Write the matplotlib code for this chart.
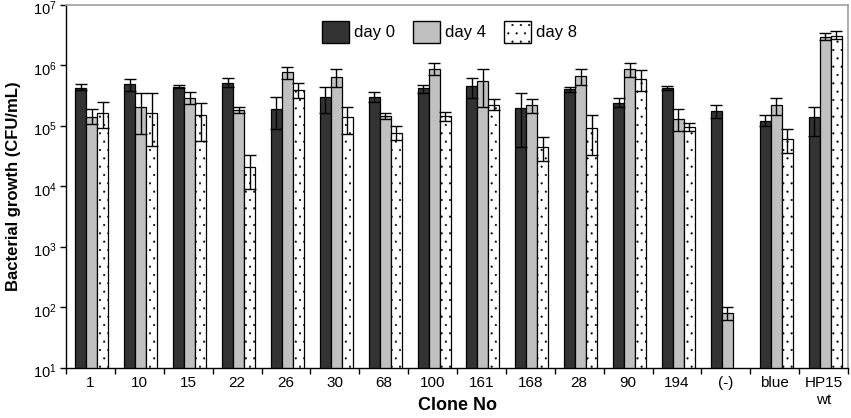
import numpy as np
import matplotlib
matplotlib.use("Agg")
import matplotlib.pyplot as plt
from matplotlib.patches import Patch
from matplotlib.ticker import FixedLocator
from matplotlib.transforms import ScaledTranslation

plt.rcParams['hatch.linewidth'] = 0.3
plt.rcParams['hatch.color'] = '#555555'
plt.rcParams['font.family'] = ['Liberation Sans', 'DejaVu Sans']

categories = ["1", "10", "15", "22", "26", "30", "68", "100", "161", "168",
              "28", "90", "194", "(-)", "blue", "HP15\nwt"]
y_exponents = [1, 2, 3, 4, 5, 6, 7]

day0 = [4.2e5, 4.85e5, 4.4e5, 5.1e5, 1.9e5, 3.0e5, 3.0e5, 4.1e5, 4.5e5, 1.95e5,
        3.96e5, 2.35e5, 4.17e5, 1.76e5, 1.2e5, 1.36e5]
day0_lo = [3.9e5, 3.75e5, 4.1e5, 4.25e5, 8.6e4, 1.6e5, 2.45e5, 3.5e5, 2.9e5, 4.4e4,
           3.6e5, 2.0e5, 3.85e5, 1.33e5, 9.8e4, 6.8e4]
day0_hi = [4.8e5, 5.95e5, 4.75e5, 6.1e5, 3.0e5, 4.25e5, 3.6e5, 4.75e5, 6.1e5, 3.5e5,
           4.4e5, 2.8e5, 4.5e5, 2.2e5, 1.47e5, 2.05e5]

day4 = [1.4e5, 2.05e5, 2.85e5, 1.8e5, 7.65e5, 6.4e5, 1.45e5, 8.6e5, 5.4e5, 2.2e5,
        6.5e5, 8.5e5, 1.3e5, 80, 2.2e5, 2.94e6]
day4_lo = [1.06e5, 7.3e4, 2.25e5, 1.58e5, 5.95e5, 4.25e5, 1.3e5, 6.8e5, 2.0e5, 1.62e5,
           4.75e5, 6.25e5, 8.0e4, 61, 1.5e5, 2.6e6]
day4_hi = [1.86e5, 3.4e5, 3.6e5, 2.02e5, 9.1e5, 8.6e5, 1.62e5, 1.08e6, 8.7e5, 2.77e5,
           8.5e5, 1.08e6, 1.85e5, 99, 2.85e5, 3.35e6]

day8 = [1.6e5, 1.6e5, 1.47e5, 2.08e4, 3.86e5, 1.4e5, 7.6e4, 1.42e5, 2.2e5, 4.47e4,
        9.2e4, 5.9e5, 9.4e4, np.nan, 5.9e4, 3.0e6]
day8_lo = [9.1e4, 4.5e4, 5.6e4, 8.8e3, 2.8e5, 7.2e4, 5.75e4, 1.2e5, 1.8e5, 2.6e4,
           3.3e4, 3.67e5, 8.2e4, np.nan, 3.47e4, 2.65e6]
day8_hi = [2.4e5, 3.4e5, 2.38e5, 3.24e4, 5.1e5, 2.04e5, 1.0e5, 1.67e5, 2.7e5, 6.45e4,
           1.51e5, 8.26e5, 1.09e5, np.nan, 8.65e4, 3.6e6]

series = [("day 0", day0, day0_lo, day0_hi, "#333333", None),
          ("day 4", day4, day4_lo, day4_hi, "#c0c0c0", None),
          ("day 8", day8, day8_lo, day8_hi, "white", "..")]

fig = plt.figure(figsize=(8.51, 4.18), dpi=100)
ax = fig.add_axes([66/851, 1-367.5/418, (848-66)/851, (367.5-4.5)/418])

x = np.arange(len(categories))
w = 0.225
for i, (name, v, lo, hi, col, hatch) in enumerate(series):
    v = np.array(v, dtype=float)
    lo = np.array(lo, dtype=float)
    hi = np.array(hi, dtype=float)
    pos = x + (i - 1) * w + 0.03
    ax.bar(pos, v, width=w, color=col, edgecolor="black", linewidth=0.9,
           hatch=hatch, log=True, zorder=2)
    yerr = np.vstack([v - lo, hi - v])
    ax.errorbar(pos, v, yerr=yerr, fmt="none", ecolor="black",
                elinewidth=1.0, capsize=4.5, capthick=1.0, zorder=3)

ax.set_yscale('log')
ax.set_ylim(10, 1e7)
ax.set_xlim(-0.5, len(categories) - 0.5)

ax.set_yticks([10.0 ** e for e in y_exponents],
              labels=[r'$\mathdefault{10^{%d}}$' % e for e in y_exponents],
              va='center_baseline')
ax.yaxis.set_minor_locator(FixedLocator([]))
ax.set_xticks(x)
ax.set_xticklabels(categories, fontsize=11, linespacing=1.25)
ax.set_xticks(np.arange(-0.5, len(categories), 1.0), minor=True)
ax.tick_params(axis='x', which='major', length=0, pad=6)
ax.tick_params(axis='x', which='minor', length=4, width=1, direction='out')
ax.tick_params(axis='y', which='major', length=4, width=1, direction='out',
               labelsize=10.5, pad=3)
shift = ScaledTranslation(0, -3 / 100, fig.dpi_scale_trans)
for tick in ax.yaxis.get_major_ticks():
    tick.label1.set_transform(tick.label1.get_transform() + shift)

for s in ['top', 'right']:
    ax.spines[s].set_color('#a0a0a0')
    ax.spines[s].set_linewidth(1.2)
for s in ['left', 'bottom']:
    ax.spines[s].set_color('black')
    ax.spines[s].set_linewidth(1.0)

ax.set_ylabel("Bacterial growth (CFU/mL)", fontsize=12, fontweight='bold',
              va='center')
ax.yaxis.set_label_coords(-(66 - 14) / 782, 0.5)
ax.set_xlabel("Clone No", fontsize=13, fontweight='bold', va='center')
ax.xaxis.set_label_coords(0.5, -(405 - 367.5) / 363)

handles = [Patch(facecolor=c, edgecolor='black', hatch=h, label=n)
           for (n, _, _, _, c, h) in series]
leg = ax.legend(handles=handles, loc='upper center', bbox_to_anchor=(0.49, 0.995),
                ncol=3, frameon=False, handlelength=1.6, handleheight=1.6,
                handletextpad=0.3, columnspacing=1.1,
                prop={'size': 12})

fig.savefig("out.png", dpi=100)
